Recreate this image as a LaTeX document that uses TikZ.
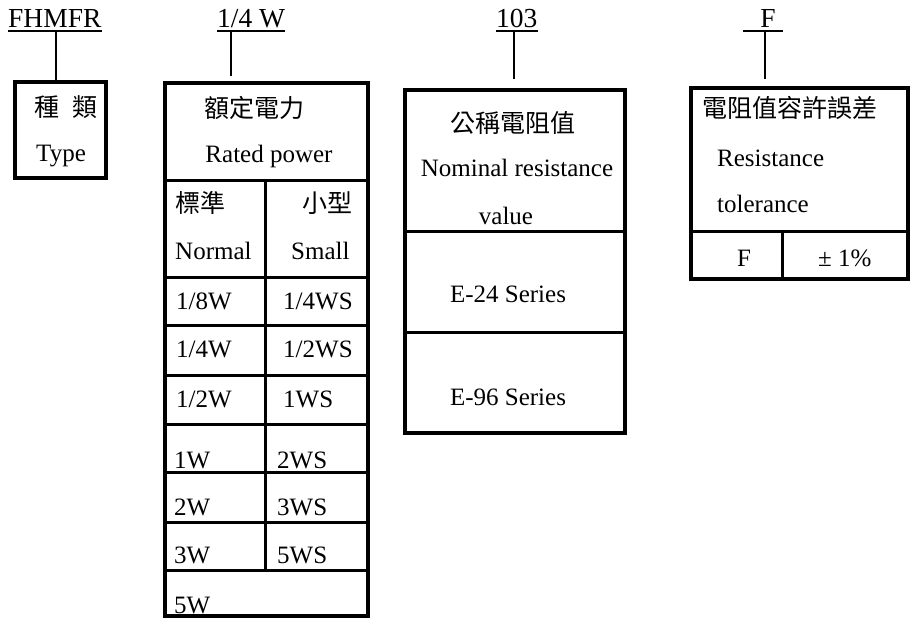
\documentclass[tikz,border=0pt]{standalone}
\usepackage{fontspec}
\setmainfont{Liberation Serif}
\newfontfamily\cjk{Noto Sans CJK TC}
\tikzstyle{boxline}=[
        line width=4pt
]
\tikzstyle{cellline}=[
        line width=3pt
]
\tikzstyle{stem}=[
        line width=2.5pt
]
\tikzstyle{code}=[
        inner sep=0pt,
        text depth=3pt,
        font=\fontsize{27.5}{30}\selectfont
]
\tikzstyle{cell}=[
        inner sep=0pt,
        font=\fontsize{25}{28}\selectfont
]
\begin{document}
\begin{tikzpicture}[x=1pt,y=-1pt]
    \useasboundingbox (0,0) rectangle (913,620);

    % part number codes
    \node[code,anchor=base west] (codeType) at (8,28) {FHMFR};
    \node[code,anchor=base west] (codePower) at (217,28) {1/4 W};
    \node[code,anchor=base west] (codeValue) at (496,28) {103};
    \node[code,anchor=base] (codeTol) at (768,28) {F};

    \draw[line width=2pt] (codeType.south west) -- (codeType.south east);
    \draw[line width=2pt] (codePower.south west) -- (codePower.south east);
    \draw[line width=2pt] (codeValue.south west) -- (codeValue.south east);
    \draw[line width=2pt] ([xshift=-25pt]codeTol.south) -- ([xshift=15pt]codeTol.south);

    \coordinate (typeTop) at (56,80);
    \coordinate (powerTop) at (231,76);
    \coordinate (valueTop) at (514,79);
    \coordinate (tolTop) at (765,79);

    \draw[stem] (typeTop |- codeType.south) -- (typeTop);
    \draw[stem] (powerTop |- codePower.south) -- (powerTop);
    \draw[stem] (valueTop |- codeValue.south) -- (valueTop);
    \draw[stem] (tolTop |- codeTol.south) -- (tolTop);

    % type
    \draw[boxline] (15,82) rectangle (106,178);
    \node[cell,anchor=base] (typeZh) at (66,117) {\cjk 種\hspace{0.5em}類};
    \node[cell,anchor=base west] (typeEn) at (36,162) {Type};

    % rated power
    \draw[boxline] (165,83) rectangle (368,616);
    \foreach \y in {181,278,326,375,424,472,522,570} {
        \draw[cellline] (165,\y) -- (368,\y);
    }
    \draw[cellline] (265,181) -- (265,570);
    \node[cell,anchor=base] (powerZh) at (254,118) {\cjk 額定電力};
    \node[cell,anchor=base] (powerEn) at (269,163) {Rated power};
    \node[cell,anchor=base west] (normalZh) at (175,213) {\cjk 標準};
    \node[cell,anchor=base east] (smallZh) at (353,213) {\cjk 小型};
    \node[cell,anchor=base west] (normalEn) at (175,260) {Normal};
    \node[cell,anchor=base west] (smallEn) at (291,260) {Small};

    \node[cell,anchor=base west] (normA) at (176,309) {1/8W};
    \node[cell,anchor=base west] (normB) at (176,357) {1/4W};
    \node[cell,anchor=base west] (normC) at (176,407) {1/2W};
    \node[cell,anchor=base west] (normD) at (174,468) {1W};
    \node[cell,anchor=base west] (normE) at (174,515) {2W};
    \node[cell,anchor=base west] (normF) at (174,563) {3W};
    \node[cell,anchor=base west] (normG) at (174,613) {5W};

    \node[cell,anchor=base west] (smallA) at (283,309) {1/4WS};
    \node[cell,anchor=base west] (smallB) at (283,357) {1/2WS};
    \node[cell,anchor=base west] (smallC) at (283,407) {1WS};
    \node[cell,anchor=base west] (smallD) at (277,468) {2WS};
    \node[cell,anchor=base west] (smallE) at (277,515) {3WS};
    \node[cell,anchor=base west] (smallF) at (277,563) {5WS};

    % nominal resistance value
    \draw[boxline] (405,90) rectangle (625,433);
    \draw[cellline] (405,232) -- (625,232);
    \draw[cellline] (405,333) -- (625,333);
    \node[cell,anchor=base] (valueZh) at (513,133) {\cjk 公稱電阻值};
    \node[cell,anchor=base] (valueEnA) at (517,177) {Nominal resistance};
    \node[cell,anchor=base] (valueEnB) at (506,225) {value};
    \node[cell,anchor=base] (seriesA) at (508,303) {E-24 Series};
    \node[cell,anchor=base] (seriesB) at (508,405) {E-96 Series};

    % resistance tolerance
    \draw[boxline] (691,88) rectangle (908,279);
    \draw[cellline] (691,232) -- (908,232);
    \draw[cellline] (782,232) -- (782,279);
    \node[cell,anchor=base west] (tolZh) at (702,118) {\cjk 電阻值容許誤差};
    \node[cell,anchor=base west] (tolEnA) at (717,167) {Resistance};
    \node[cell,anchor=base west] (tolEnB) at (717,213) {tolerance};
    \node[cell,anchor=base] (tolCode) at (744,267) {F};
    \node[cell,anchor=base west] (tolPct) at (818,267) {± 1\%};

\end{tikzpicture}
\end{document}
